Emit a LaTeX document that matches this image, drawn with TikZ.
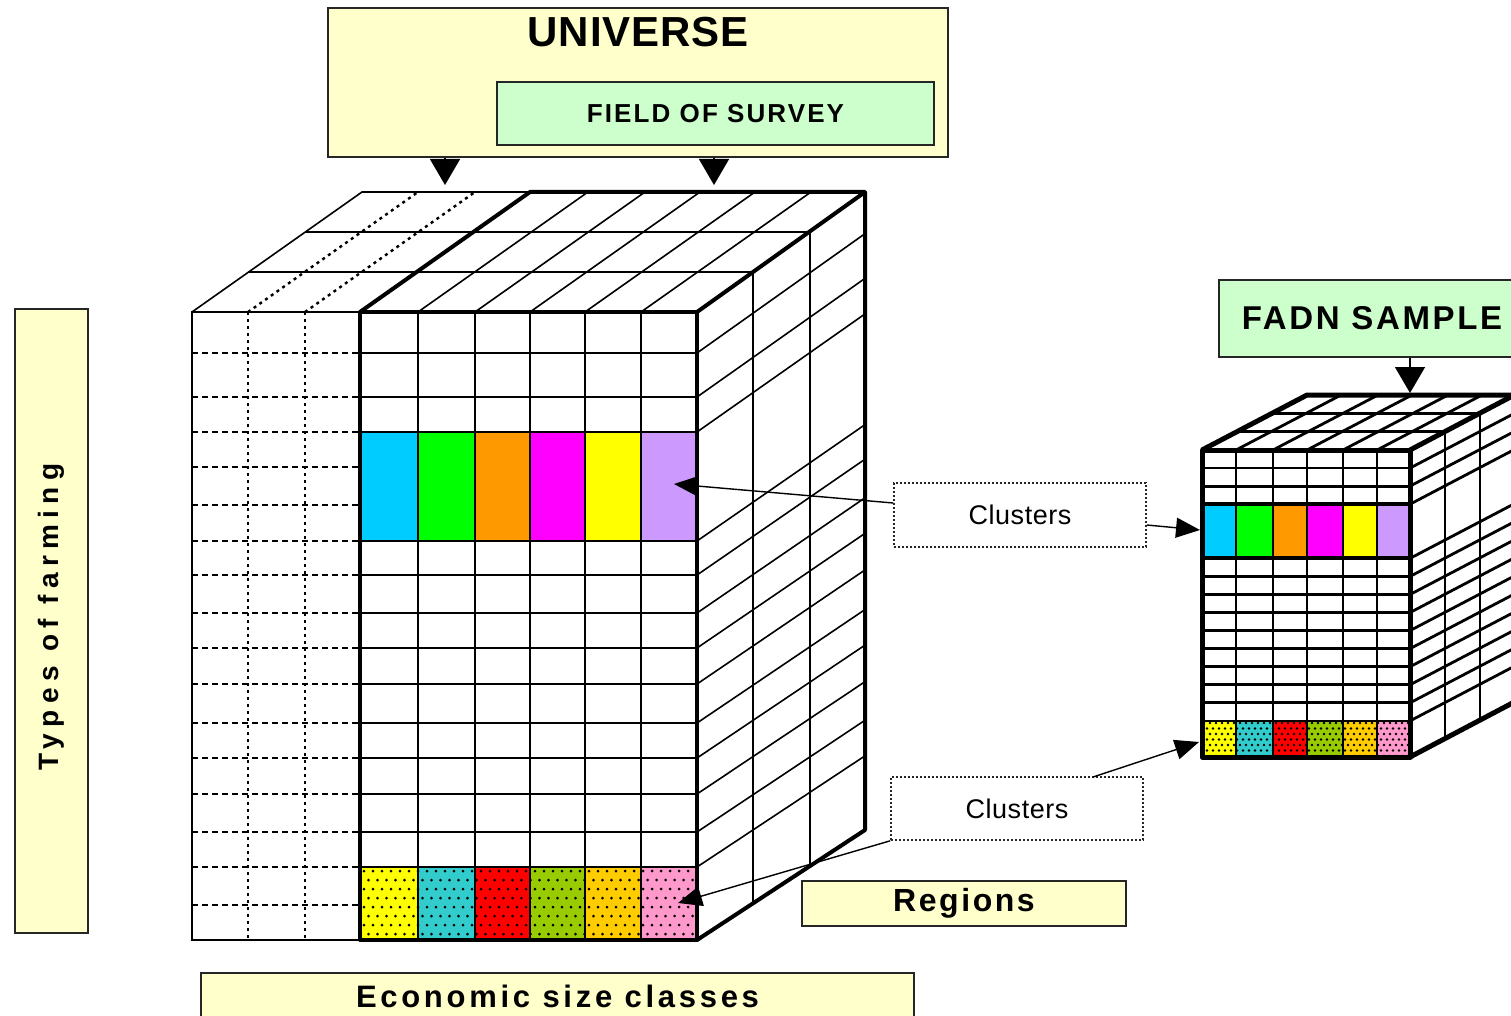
\documentclass[tikz,border=0pt]{standalone}
\usepackage{fontspec}
\setmainfont{Liberation Sans}
\newfontfamily\lsA[LetterSpace=2]{Liberation Sans}
\newfontfamily\lsB[LetterSpace=8]{Liberation Sans}
\newfontfamily\lsC[LetterSpace=12]{Liberation Sans}
\newfontfamily\lsD[LetterSpace=23]{Liberation Sans}
\usetikzlibrary{arrows.meta}
\definecolor{boxyellow}{HTML}{FFFFCC}
\definecolor{boxgreen}{HTML}{CCFFCC}
\definecolor{cA}{HTML}{00CCFF}
\definecolor{cB}{HTML}{00FF00}
\definecolor{cC}{HTML}{FF9900}
\definecolor{cD}{HTML}{FF00FF}
\definecolor{cE}{HTML}{FFFF00}
\definecolor{cF}{HTML}{CC99FF}
\definecolor{pA}{HTML}{FFFF00}
\definecolor{pB}{HTML}{33CCCC}
\definecolor{pC}{HTML}{FF0000}
\definecolor{pD}{HTML}{99CC00}
\definecolor{pE}{HTML}{FFCC00}
\definecolor{pF}{HTML}{FF99CC}
\begin{document}
\begin{tikzpicture}[x=1pt,y=-1pt,
  ybox/.style={draw=black!85, line width=1.6pt, fill=boxyellow, inner sep=0pt},
  gbox/.style={draw=black!85, line width=1.6pt, fill=boxgreen, inner sep=0pt},
  cbox/.style={draw=black!85, line width=1.6pt, dash pattern=on 1.6pt off 2.4pt, fill=white, inner sep=0pt},
  gl/.style={line width=1.6pt},
  glb/.style={line width=2.8pt},
  tl/.style={line width=4pt, line join=round},
  dashl/.style={line width=2.4pt, dash pattern=on 6pt off 4pt},
  dotl/.style={line width=2.4pt, dash pattern=on 3pt off 4pt},
  bigtri/.style={line width=1.5pt, -{Triangle[length=26pt,width=30pt]}},
  smalltri/.style={line width=1.4pt, -{Triangle[length=24pt,width=20pt]}}
]
\clip (0,0) rectangle (1511,1016);
\fill[white] (0,0) rectangle (1511,1016);

% ---------------- big cube ----------------
% left (dashed) front part
\draw[gl] (192,312) rectangle (360,940);
\foreach \r in {353,397,432,467,505,541,575,613,648,684,723,758,794,832,867,905}
  \draw[dashl] (192,\r) -- (360,\r);
\foreach \c in {248,305}
  \draw[dotl] (\c,312) -- (\c,940);
% top face
\draw[gl] (192,312) -- (362,192) -- (530,192);
\draw[gl] (248,272) -- (753,272);
\draw[gl] (305,232) -- (810,232);
\foreach \c in {248,305}
  \draw[dotl] (\c,312) -- (\c+170,192);
\foreach \c in {418,475,530,585,641}
  \draw[gl] (\c,312) -- (\c+170,192);
% coloured band
\foreach \x/\col [count=\i] in {360/cA,418/cB,475/cC,530/cD,585/cE,641/cF}{
  \pgfmathsetmacro\xe{{360,418,475,530,585,641,697}[\i]}
  \fill[\col] (\x,432) rectangle (\xe,541);
}
% patterned band
\foreach \x/\col [count=\i] in {360/pA,418/pB,475/pC,530/pD,585/pE,641/pF}{
  \pgfmathsetmacro\xe{{360,418,475,530,585,641,697}[\i]}
  \fill[\col] (\x,867) rectangle (\xe,940);
}
\begin{scope}
  \clip (360,867) rectangle (697,940);
  \foreach \j in {0,...,8}{
    \foreach \i in {0,...,38}{
      \pgfmathsetmacro\xx{364+\i*9+mod(\j,2)*4.5}
      \pgfmathsetmacro\yy{871+\j*9}
      \fill (\xx,\yy) circle (1.5);
    }
  }
\end{scope}
% front grid
\foreach \r in {353,397,432,541,575,613,648,684,723,758,794,832,867}
  \draw[gl] (360,\r) -- (697,\r);
\foreach \c in {418,475,530,585,641}
  \draw[gl] (\c,312) -- (\c,940);
% right face
\foreach \r in {353,397,432,541,575,613,648,684,723,758,794,832,867}{
  \pgfmathsetmacro\br{192+(\r-312)*1.01592}
  \draw[gl] (697,\r) -- (865,\br);
}
\draw[gl] (753,272) -- (753,903);
\draw[gl] (810,232) -- (810,866);
% thick outline
\draw[tl] (360,312) rectangle (697,940);
\draw[tl] (360,312) -- (530,192) -- (865,192) -- (697,312);
\draw[tl] (865,192) -- (865,830) -- (697,940);

% ---------------- small cube ----------------
\foreach \x/\col [count=\i] in {1202/cA,1236/cB,1273/cC,1307/cD,1343/cE,1377/cF}{
  \pgfmathsetmacro\xe{{1202,1236,1273,1307,1343,1377,1410}[\i]}
  \fill[\col] (\x,504.2) rectangle (\xe,558.4);
}
\foreach \x/\col [count=\i] in {1202/pA,1236/pB,1273/pC,1307/pD,1343/pE,1377/pF}{
  \pgfmathsetmacro\xe{{1202,1236,1273,1307,1343,1377,1410}[\i]}
  \fill[\col] (\x,720.9) rectangle (\xe,757);
}
\begin{scope}
  \clip (1202,720.9) rectangle (1410,757);
  \foreach \j in {0,...,6}{
    \foreach \i in {0,...,35}{
      \pgfmathsetmacro\xx{1204+\i*6+mod(\j,2)*3}
      \pgfmathsetmacro\yy{723+\j*5.5}
      \fill (\xx,\yy) circle (1.3);
    }
  }
\end{scope}
\foreach \k in {1,2,7,8,9,10,11,12,13,14,15}{
  \pgfmathsetmacro\r{450+\k*18.06}
  \draw[glb] (1202,\r) -- (1410,\r);
}
\foreach \c in {1236,1273,1307,1343,1377}
  \draw[glb] (\c,450) -- (\c,757);
\draw[line width=4pt] (1202,504.2) -- (1410,504.2);
\draw[line width=4pt] (1202,558.4) -- (1410,558.4);
% top face
\draw[glb] (1237,431.7) -- (1445,431.7);
\draw[glb] (1272,413.3) -- (1480,413.3);
\foreach \c in {1236,1273,1307,1343,1377}
  \draw[glb] (\c,450) -- (\c+105,395);
% right face
\foreach \k in {1,2,3,6,7,8,9,10,11,12,13,14,15}{
  \pgfmathsetmacro\r{450+\k*18.06}
  \draw[glb] (1410,\r) -- (1515,\r-55);
}
\draw[glb] (1445,431.7) -- (1445,738.7);
\draw[glb] (1480,413.3) -- (1480,720.3);
\draw[line width=5pt, line join=round] (1202,450) rectangle (1410,757);
\draw[line width=5pt, line join=round] (1202,450) -- (1307,395) -- (1520,395);
\draw[line width=5pt, line join=round] (1410,450) -- (1520,392);
\draw[line width=5pt, line join=round] (1410,757) -- (1520,699);

% ---------------- boxes ----------------
\node[ybox, minimum width=620pt, minimum height=149pt] (universe) at (638,82.5) {};
\node[font=\fontsize{42}{42}\selectfont\lsA\bfseries] (univlbl) at (638,32) {UNIVERSE};
\node[gbox, minimum width=437pt, minimum height=63pt, font=\fontsize{26}{26}\selectfont\lsB\bfseries] (field) at (715.5,113.5) {FIELD OF SURVEY};
\node[gbox, minimum width=306pt, minimum height=77pt, font=\fontsize{33}{33}\selectfont\lsB\bfseries] (fadn) at (1372,318.5) {FADN SAMPLE};
\node[ybox, minimum width=73pt, minimum height=624pt] (types) at (51.5,621) {};
\node[rotate=90, font=\fontsize{28}{28}\selectfont\lsD\bfseries] (typeslbl) at (51.5,617) {Types of farming};
\node[ybox, minimum width=713pt, minimum height=46pt, font=\fontsize{31}{31}\selectfont\lsC\bfseries] (econ) at (557.5,996) {Economic size classes};
\node[ybox, minimum width=324pt, minimum height=45pt, font=\fontsize{32}{32}\selectfont\lsB\bfseries] (regions) at (964,903.5) {Regions};
\node[cbox, minimum width=252pt, minimum height=64pt, font=\fontsize{27}{27}\selectfont\lsA] (clusA) at (1020,515) {Clusters};
\node[cbox, minimum width=252pt, minimum height=63pt, font=\fontsize{27}{27}\selectfont\lsA] (clusB) at (1017,808.5) {Clusters};

% ---------------- connectors ----------------
\coordinate (topA) at (445,185);
\coordinate (topB) at (714,185);
\coordinate (topS) at (1410,393);
\coordinate (bandBig) at (674,484);
\coordinate (bandSmall) at (1200,530);
\coordinate (patBig) at (678,903);
\coordinate (patSmall) at (1199,742);
\coordinate (clusBtop) at (1093,777);
\draw[bigtri] (universe.south -| topA) -- (topA);
\draw[bigtri] (universe.south -| topB) -- (topB);
\draw[bigtri] (fadn.south -| topS) -- (topS);
\draw[smalltri] (clusA.west |- 0,503) -- (bandBig);
\draw[smalltri] (clusA.east |- 0,525) -- (bandSmall);
\draw[smalltri] (clusB.south west) -- (patBig);
\draw[smalltri] (clusBtop) -- (patSmall);
\end{tikzpicture}
\end{document}
